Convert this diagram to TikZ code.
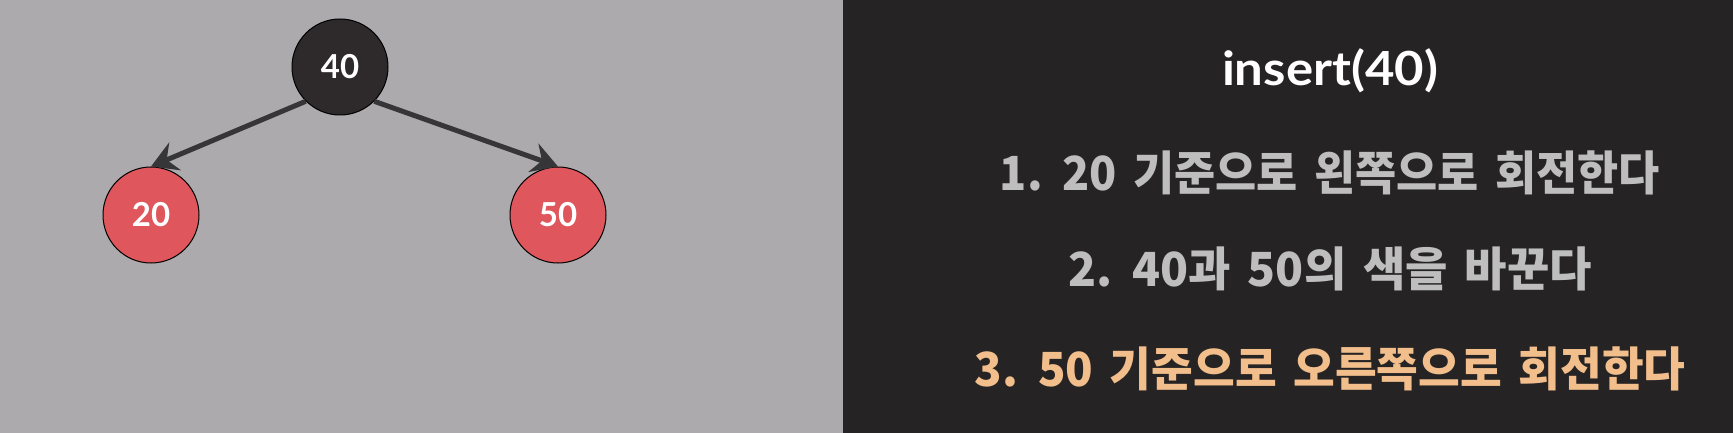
\documentclass[tikz,border=0pt]{standalone}
\usepackage{fontspec}
\setmainfont{Lato}
\newfontfamily\kr[WordSpace=1.6]{Noto Sans CJK KR}
\usetikzlibrary{arrows.meta}
\definecolor{lbg}{HTML}{ACAAAD}
\definecolor{rbg}{HTML}{252324}
\definecolor{nblack}{HTML}{2E292B}
\definecolor{nred}{HTML}{E0565D}
\definecolor{edgec}{HTML}{363538}
\definecolor{stepgray}{HTML}{BEBEBE}
\definecolor{stepor}{HTML}{F2BE8C}
\newcommand{\fitw}[2]{\resizebox{#1}{\height}{#2}}
\begin{document}
\begin{tikzpicture}[x=1pt,y=-1pt,
  tnode/.style={circle,draw=black,line width=1pt,minimum size=96pt,inner sep=0pt,text=white,font=\bfseries\fontsize{33}{38}\selectfont},
  edge/.style={draw=edgec,line width=5pt,-{Stealth[length=26pt,width=30pt,inset=9pt]}},
  stepline/.style={font=\kr\bfseries\fontsize{47}{54}\selectfont}]
\fill[lbg] (0,0) rectangle (843,433);
\fill[rbg] (843,0) rectangle (1733,433);
\useasboundingbox (0,0) rectangle (1733,433);
\node[tnode,fill=nblack] (n40) at (340,67) {40};
\node[tnode,fill=nred] (n20) at (151,215) {20};
\node[tnode,fill=nred] (n50) at (558,215) {50};
\draw[edge] (n40.225) -- (n20.north);
\draw[edge] (n40.-45) -- (n50.north);
\node[font=\bfseries\fontsize{47}{54}\selectfont,text=white] (title) at (1330,71) {\fitw{216pt}{insert(40)}};
\node[stepline,text=stepgray] (s1) at (1330,173) {\fitw{660pt}{1. 20 기준으로 왼쪽으로 회전한다}};
\node[stepline,text=stepgray] (s2) at (1330,269) {\fitw{524pt}{2. 40과 50의 색을 바꾼다}};
\node[stepline,text=stepor] (s3) at (1330,369) {\fitw{711pt}{3. 50 기준으로 오른쪽으로 회전한다}};
\end{tikzpicture}
\end{document}
